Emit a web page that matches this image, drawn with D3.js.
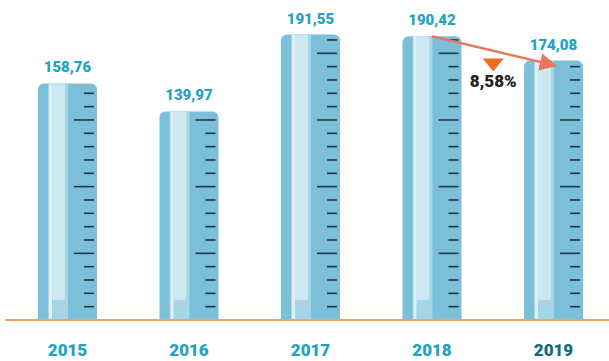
<!DOCTYPE html>
<html>
<head>
<meta charset="utf-8">
<script src="https://cdn.jsdelivr.net/npm/d3@7"></script>
<style>
html,body{margin:0;padding:0;background:#fff;}
svg{display:block;}
text{font-family:Roboto,"Open Sans",sans-serif;font-weight:900;}
</style>
</head>
<body>
<svg id="chart" width="609" height="361"></svg>
<script>
const years = ["2015","2016","2017","2018","2019"];
const values = [158.76, 139.97, 191.55, 190.42, 174.08];
const valueLabels = ["158,76","139,97","191,55","190,42","174,08"];
const changeLabel = "8,58%";
const tickStep = 8.95;

const W = 609, H = 361;
const svg = d3.select("#chart");
const baseY = 320;
const x = d3.scalePoint().domain(years).range([67.5, 553.5]);
const y = d3.scaleLinear().domain([0, 200]).range([baseY, 22]);
const bw = 59, r = 6;

const defs = svg.append("defs");
defs.append("marker").attr("id","ah").attr("viewBox","0 0 10 10")
  .attr("refX",9).attr("refY",5).attr("markerWidth",7).attr("markerHeight",7)
  .attr("markerUnits","strokeWidth").attr("orient","auto")
  .append("path").attr("d","M0,0 L10,5 L0,10 Z").attr("fill","#e8775c");

years.forEach((yr,i)=>{
  const cx = x(yr), left = cx - bw/2, top = y(values[i]);
  const g = svg.append("g");
  const p = d3.path();
  p.moveTo(left, baseY);
  p.lineTo(left, top + r);
  p.arcTo(left, top, left + r, top, r);
  p.lineTo(left + bw - r, top);
  p.arcTo(left + bw, top, left + bw, top + r, r);
  p.lineTo(left + bw, baseY);
  p.closePath();
  g.append("path").attr("d", p.toString()).attr("fill", "#7bbfd8");
  g.append("rect").attr("x", left+10).attr("y", top).attr("width", 20).attr("height", baseY-top).attr("fill","#a8d5e6");
  // inner stripe with rounded bottom
  const sb = baseY - 20, sl = left + 14, sw = 13, sr = 3;
  const q = d3.path();
  q.moveTo(sl, top);
  q.lineTo(sl + sw, top);
  q.lineTo(sl + sw, sb - sr);
  q.arcTo(sl + sw, sb, sl + sw - sr, sb, sr);
  q.lineTo(sl + sr, sb);
  q.arcTo(sl, sb, sl, sb - sr, sr);
  q.closePath();
  g.append("path").attr("d", q.toString()).attr("fill","#cde8f1");
  g.append("rect").attr("x", left+11).attr("y", top).attr("width", 3).attr("height", baseY-top).attr("fill","#dcf0f6");
  // ticks
  for (let k = 1; ; k++) {
    const ty = y(k*tickStep);
    if (ty < top + 3) break;
    const long = k % 5 === 0;
    g.append("line").attr("x1", left+bw-3-(long?20:10)).attr("x2", left+bw-3)
      .attr("y1", ty).attr("y2", ty).attr("stroke", long ? "#20394a" : "#1d3444").attr("stroke-width",1.6);
  }
  svg.append("text").attr("x", cx).attr("y", top - 11).attr("text-anchor","middle")
    .attr("font-size",15).attr("fill","#22a4c4").text(valueLabels[i]);
  svg.append("text").attr("x", cx).attr("y", 356).attr("text-anchor","middle")
    .attr("font-size",17).attr("fill", i===years.length-1 ? "#0f6b7c" : "#1fa2c3").text(yr);
});

// baseline
svg.append("line").attr("x1",5).attr("x2",W).attr("y1",baseY).attr("y2",baseY)
  .attr("stroke","#f2a55a").attr("stroke-width",2);

// change arrow
const x1 = x("2018"), y1 = y(values[3]);
const x2 = x("2019") + 2, y2 = y(values[4]) + 5;
svg.append("line").attr("x1",x1).attr("y1",y1).attr("x2",x2).attr("y2",y2)
  .attr("stroke","#e8775c").attr("stroke-width",2.5).attr("marker-end","url(#ah)");

const mx = (x1 + x("2019"))/2 + 0.5;
svg.append("path").attr("d", `M${mx-10.5},58.5 L${mx+10.5},58.5 L${mx},71.5 Z`).attr("fill","#f26b22");
svg.append("text").attr("x", mx).attr("y", 87).attr("text-anchor","middle")
  .attr("font-size",17).attr("fill","#222").text(changeLabel);
</script>
</body>
</html>
